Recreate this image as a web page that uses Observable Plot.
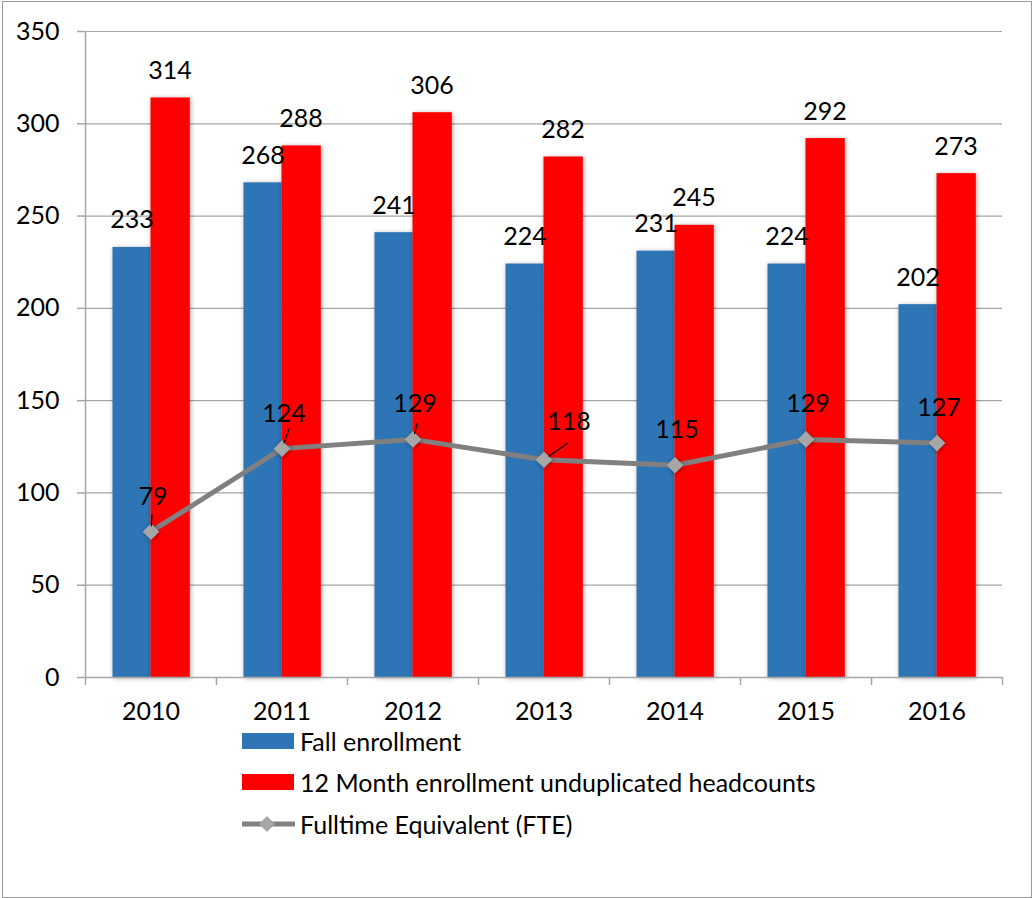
<!DOCTYPE html>
<html>
<head>
<meta charset="utf-8">
<script src="https://cdn.jsdelivr.net/npm/d3@7"></script>
<script src="https://cdn.jsdelivr.net/npm/@observablehq/plot@0.6"></script>
<style>
  html, body { margin: 0; padding: 0; background: #fff; }
  body { width: 1032px; height: 898px; position: relative; overflow: hidden; font-family: Lato, "Open Sans", sans-serif; }
  #frame { position: absolute; left: 2px; top: 1px; width: 1030px; height: 897px; box-sizing: border-box; border: 1.5px solid #9a9a9a; }
  #chart { position: absolute; left: 0; top: 0; }
  #chart svg g.bars rect, #chart svg g.marker path { filter: drop-shadow(1px 1px 2.5px rgba(0,0,0,0.35)); }
  #legend { position: absolute; left: 242px; top: 720px; font-size: 25px; color: #000; }
  .item { position: relative; height: 41.5px; display: flex; align-items: center; white-space: nowrap; }
  .sw { width: 52px; height: 16px; margin-right: 6px; }
  .lg { width: 54px; height: 20px; margin-right: 4px; }
</style>
</head>
<body>
<div id="frame"></div>
<div id="chart"></div>
<div id="legend"></div>
<script>
const years = [2010, 2011, 2012, 2013, 2014, 2015, 2016];
const fallEnrollment = [233, 268, 241, 224, 231, 224, 202];
const twelveMonth = [314, 288, 306, 282, 245, 292, 273];
const fte = [79, 124, 129, 118, 115, 129, 127];
const yTicks = [0, 50, 100, 150, 200, 250, 300, 350];
const seriesNames = ["Fall enrollment", "12 Month enrollment unduplicated headcounts", "Fulltime Equivalent (FTE)"];
const colors = ["#2E75B6", "#FF0000", "#808080"];

// label leader-line styling (angle in degrees, length in px) for the FTE labels that were moved
const leaderStyle = {2010: [3, 17], 2011: [20, 21], 2012: [15, 17], 2013: [55, 29]};

const rows = years.map((year, i) => ({year, fall: fallEnrollment[i], twelve: twelveMonth[i], fte: fte[i]}));
const boundaries = years.map(y => y - 0.5).concat([years[years.length - 1] + 0.5]);
const bw = 0.29;
const gridColor = "#A6A6A6";
const font = "Lato, 'Open Sans', sans-serif";

const leaderShape = {
  draw(context, l) { context.moveTo(0, -6); context.lineTo(0, -l); }
};

const plot = Plot.plot({
  width: 1032,
  height: 730,
  marginLeft: 85,
  marginRight: 30,
  marginTop: 31,
  marginBottom: 53,
  style: {fontFamily: font, fontSize: "25px", color: "#000", background: "transparent", overflow: "visible"},
  x: {type: "linear", domain: [boundaries[0], boundaries[boundaries.length - 1]]},
  y: {domain: [0, 350]},
  length: {type: "identity"},
  marks: [
    Plot.ruleY(yTicks.filter(t => t > 0), {stroke: gridColor, strokeWidth: 1.2}),
    Plot.ruleX([boundaries[0]], {stroke: gridColor, strokeWidth: 1.5}),
    Plot.axisY({ticks: yTicks, tickSize: 8, tickPadding: 18, stroke: gridColor, strokeWidth: 1.5, label: null, fill: "#000"}),
    Plot.rectY(rows, {x1: d => d.year - bw, x2: d => d.year, y1: 0, y2: "fall", fill: colors[0], className: "bars"}),
    Plot.rectY(rows, {x1: d => d.year, x2: d => d.year + bw + 0.01, y1: 0, y2: "twelve", fill: colors[1], className: "bars"}),
    Plot.ruleY([0], {stroke: gridColor, strokeWidth: 1.5}),
    Plot.axisX({ticks: boundaries, tickFormat: () => "", tickSize: 8, stroke: gridColor, strokeWidth: 1.5, label: null}),
    Plot.axisX({ticks: years, tickFormat: d => String(d), tickSize: 0, tickPadding: 25, label: null, fill: "#000"}),
    Plot.text(rows, {x: d => d.year - bw / 2, y: "fall", text: d => String(d.fall), dy: -27, fill: "#000"}),
    Plot.text(rows, {x: d => d.year + bw / 2, y: "twelve", text: d => String(d.twelve), dy: -27, fill: "#000"}),
    Plot.line(rows, {x: "year", y: "fte", stroke: colors[2], strokeWidth: 5}),
    Plot.dot(rows, {x: "year", y: "fte", symbol: "diamond2", r: 7.5, fill: "#A6A6A6", stroke: "none", className: "marker"}),
    Plot.vector(rows.filter(d => leaderStyle[d.year]), {
      x: "year", y: "fte", anchor: "start", shape: leaderShape,
      rotate: d => leaderStyle[d.year][0], length: d => leaderStyle[d.year][1],
      stroke: "#000", strokeWidth: 1.2
    }),
    Plot.text(rows.filter(d => d.year !== 2013), {x: "year", y: "fte", text: d => String(d.fte), dy: -35, dx: 2, fill: "#000"}),
    Plot.text(rows.filter(d => d.year === 2013), {x: "year", y: "fte", text: d => String(d.fte), dy: -38, dx: 25, fill: "#000"})
  ]
});
document.getElementById("chart").appendChild(plot);

const legend = document.getElementById("legend");
seriesNames.forEach((name, i) => {
  const item = document.createElement("div");
  item.className = "item";
  if (i < 2) {
    item.innerHTML = `<div class="sw" style="background:${colors[i]}"></div><span>${name}</span>`;
  } else {
    item.innerHTML = `<svg class="lg" width="54" height="20"><line x1="0" y1="10" x2="53" y2="10" stroke="${colors[2]}" stroke-width="5"/><path d="M25,2 L33,10 L25,18 L17,10 Z" fill="#A6A6A6"/></svg><span>${name}</span>`;
  }
  legend.appendChild(item);
});
</script>
</body>
</html>
